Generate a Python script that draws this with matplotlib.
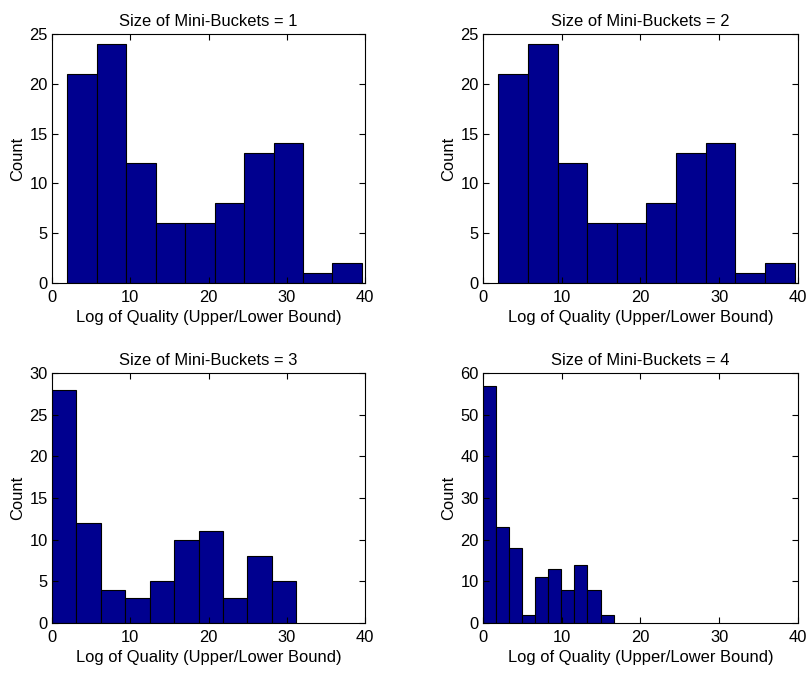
import numpy as np
import matplotlib.pyplot as plt

# histogram data (10 equal bins per panel)
titles = ['Size of Mini-Buckets = 1', 'Size of Mini-Buckets = 2',
          'Size of Mini-Buckets = 3', 'Size of Mini-Buckets = 4']
counts_1 = [21, 24, 12, 6, 6, 8, 13, 14, 1, 2]
counts_2 = [21, 24, 12, 6, 6, 8, 13, 14, 1, 2]
counts_3 = [28, 12, 4, 3, 5, 10, 11, 3, 8, 5]
counts_4 = [57, 23, 18, 2, 11, 13, 8, 14, 8, 2]
ranges = [(1.95, 39.6), (1.95, 39.6), (0.0, 31.2), (0.0, 16.6)]
ylims = [25, 25, 30, 60]
yticks = [np.arange(0, 26, 5), np.arange(0, 26, 5),
          np.arange(0, 31, 5), np.arange(0, 61, 10)]

plt.rcParams['font.family'] = ['Liberation Sans', 'DejaVu Sans']
plt.rcParams['font.size'] = 11.9

fig = plt.figure(figsize=(8.07, 6.77), dpi=100)
boxes = [[0.0644, 0.582, 0.388, 0.368],
         [0.5985, 0.582, 0.390, 0.368],
         [0.0644, 0.080, 0.388, 0.369],
         [0.5985, 0.080, 0.390, 0.369]]

all_counts = [counts_1, counts_2, counts_3, counts_4]
for i in range(4):
    ax = fig.add_axes(boxes[i])
    lo, hi = ranges[i]
    edges = np.linspace(lo, hi, len(all_counts[i]) + 1)
    ax.hist(edges[:-1], bins=edges, weights=all_counts[i],
            color='#00008F', edgecolor='black', linewidth=0.8)
    ax.set_xlim(0, 40)
    ax.set_ylim(0, ylims[i])
    ax.set_xticks([0, 10, 20, 30, 40])
    ax.set_yticks(yticks[i])
    ax.tick_params(direction='in', top=True, right=True, length=4)
    ax.tick_params(axis='x', pad=5)
    ax.tick_params(axis='y', pad=3)
    ax.set_title(titles[i], fontsize=11.9, pad=6)
    ax.set_ylabel('Count', labelpad=3)
    ax.set_xlabel('Log of Quality (Upper/Lower Bound)', labelpad=4)
    for s in ax.spines.values():
        s.set_linewidth(0.8)

fig.savefig('out.png', dpi=100)
